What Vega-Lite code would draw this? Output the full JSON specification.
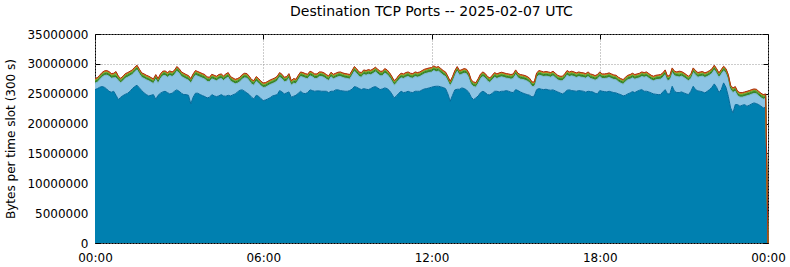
{
 "$schema": "https://vega.github.io/schema/vega-lite/v6.json",
 "width": 673,
 "height": 209,
 "autosize": "none",
 "padding": {"left": 95, "top": 34, "right": 22, "bottom": 24},
 "background": "white",
 "config": {
  "font": "DejaVu Sans",
  "view": {"stroke": "black", "strokeWidth": 1},
  "axis": {"labelFontSize": 12, "labelColor": "black", "titleFontSize": 12, "titleColor": "black", "titleFontWeight": "normal", "tickColor": "black", "domain": false, "labelFlush": false, "labelOverlap": false, "labelBound": false}
 },
 "title": {"text": "Destination TCP Ports -- 2025-02-07 UTC", "fontSize": 14, "fontWeight": "normal", "color": "black", "offset": 9, "anchor": "middle"},
 "data": {"values": [
{"t":0,"a":25690000,"b":1080000,"c":320000,"d":220000,"e":140000,"f":90000},
{"t":5,"a":25860000,"b":1070000,"c":320000,"d":220000,"e":140000,"f":90000},
{"t":10,"a":26080000,"b":1240000,"c":320000,"d":220000,"e":140000,"f":90000},
{"t":15,"a":26200000,"b":1570000,"c":320000,"d":220000,"e":140000,"f":90000},
{"t":20,"a":26080000,"b":1970000,"c":320000,"d":220000,"e":140000,"f":90000},
{"t":25,"a":25800000,"b":2310000,"c":320000,"d":220000,"e":140000,"f":90000},
{"t":30,"a":25410000,"b":2530000,"c":320000,"d":220000,"e":140000,"f":90000},
{"t":35,"a":25250000,"b":2350000,"c":320000,"d":220000,"e":140000,"f":90000},
{"t":40,"a":25410000,"b":2250000,"c":320000,"d":220000,"e":140000,"f":90000},
{"t":45,"a":24740000,"b":2930000,"c":320000,"d":500000,"e":140000,"f":90000},
{"t":50,"a":24020000,"b":3140000,"c":320000,"d":220000,"e":140000,"f":90000},
{"t":55,"a":24410000,"b":2410000,"c":320000,"d":220000,"e":140000,"f":90000},
{"t":60,"a":24690000,"b":2470000,"c":320000,"d":220000,"e":140000,"f":90000},
{"t":65,"a":24910000,"b":2690000,"c":320000,"d":220000,"e":140000,"f":90000},
{"t":70,"a":25080000,"b":2690000,"c":320000,"d":220000,"e":140000,"f":90000},
{"t":75,"a":25410000,"b":2590000,"c":320000,"d":220000,"e":140000,"f":90000},
{"t":80,"a":25860000,"b":2360000,"c":320000,"d":220000,"e":140000,"f":90000},
{"t":85,"a":26200000,"b":2470000,"c":320000,"d":220000,"e":140000,"f":90000},
{"t":90,"a":26420000,"b":2580000,"c":320000,"d":220000,"e":140000,"f":90000},
{"t":95,"a":25970000,"b":2360000,"c":320000,"d":220000,"e":140000,"f":90000},
{"t":100,"a":25530000,"b":2190000,"c":320000,"d":220000,"e":140000,"f":90000},
{"t":105,"a":25130000,"b":2420000,"c":320000,"d":220000,"e":140000,"f":90000},
{"t":110,"a":24850000,"b":2470000,"c":320000,"d":220000,"e":140000,"f":90000},
{"t":115,"a":24630000,"b":2530000,"c":320000,"d":220000,"e":140000,"f":90000},
{"t":120,"a":24740000,"b":2190000,"c":320000,"d":220000,"e":140000,"f":90000},
{"t":125,"a":24850000,"b":1860000,"c":320000,"d":220000,"e":140000,"f":90000},
{"t":130,"a":24070000,"b":3370000,"c":320000,"d":220000,"e":140000,"f":90000},
{"t":135,"a":24740000,"b":2030000,"c":320000,"d":220000,"e":140000,"f":90000},
{"t":140,"a":25080000,"b":2470000,"c":320000,"d":220000,"e":140000,"f":90000},
{"t":145,"a":25300000,"b":2700000,"c":320000,"d":220000,"e":140000,"f":90000},
{"t":150,"a":25410000,"b":2640000,"c":320000,"d":220000,"e":140000,"f":90000},
{"t":155,"a":25190000,"b":2580000,"c":320000,"d":220000,"e":140000,"f":90000},
{"t":160,"a":24970000,"b":3080000,"c":320000,"d":220000,"e":140000,"f":90000},
{"t":165,"a":25080000,"b":2800000,"c":320000,"d":220000,"e":140000,"f":90000},
{"t":170,"a":25410000,"b":2750000,"c":320000,"d":220000,"e":140000,"f":90000},
{"t":175,"a":25640000,"b":3140000,"c":320000,"d":220000,"e":140000,"f":90000},
{"t":180,"a":25410000,"b":3030000,"c":320000,"d":220000,"e":140000,"f":90000},
{"t":185,"a":25080000,"b":2800000,"c":320000,"d":220000,"e":140000,"f":90000},
{"t":190,"a":24850000,"b":2810000,"c":320000,"d":220000,"e":140000,"f":90000},
{"t":195,"a":24850000,"b":2590000,"c":320000,"d":220000,"e":140000,"f":90000},
{"t":200,"a":24740000,"b":2530000,"c":320000,"d":220000,"e":140000,"f":90000},
{"t":205,"a":23290000,"b":3480000,"c":320000,"d":220000,"e":140000,"f":90000},
{"t":210,"a":24410000,"b":3140000,"c":320000,"d":220000,"e":140000,"f":90000},
{"t":215,"a":25080000,"b":3030000,"c":320000,"d":220000,"e":140000,"f":90000},
{"t":220,"a":25080000,"b":2860000,"c":320000,"d":220000,"e":140000,"f":90000},
{"t":225,"a":24850000,"b":2920000,"c":320000,"d":220000,"e":140000,"f":90000},
{"t":230,"a":24690000,"b":2910000,"c":320000,"d":220000,"e":140000,"f":90000},
{"t":235,"a":24520000,"b":2920000,"c":320000,"d":220000,"e":140000,"f":90000},
{"t":240,"a":24300000,"b":2750000,"c":320000,"d":220000,"e":140000,"f":90000},
{"t":245,"a":24410000,"b":2580000,"c":320000,"d":220000,"e":140000,"f":90000},
{"t":250,"a":24850000,"b":2640000,"c":320000,"d":220000,"e":140000,"f":90000},
{"t":255,"a":24630000,"b":2690000,"c":320000,"d":220000,"e":140000,"f":90000},
{"t":260,"a":24520000,"b":2640000,"c":320000,"d":220000,"e":140000,"f":90000},
{"t":265,"a":24630000,"b":2810000,"c":320000,"d":220000,"e":140000,"f":90000},
{"t":270,"a":24850000,"b":2700000,"c":320000,"d":220000,"e":140000,"f":90000},
{"t":275,"a":24630000,"b":2580000,"c":320000,"d":220000,"e":140000,"f":90000},
{"t":280,"a":24580000,"b":2970000,"c":320000,"d":220000,"e":140000,"f":90000},
{"t":285,"a":24740000,"b":3030000,"c":320000,"d":220000,"e":140000,"f":90000},
{"t":290,"a":24630000,"b":2470000,"c":320000,"d":220000,"e":140000,"f":90000},
{"t":295,"a":24800000,"b":2080000,"c":320000,"d":220000,"e":140000,"f":90000},
{"t":300,"a":24970000,"b":1680000,"c":320000,"d":220000,"e":140000,"f":90000},
{"t":305,"a":25300000,"b":1470000,"c":320000,"d":220000,"e":140000,"f":90000},
{"t":310,"a":25580000,"b":1410000,"c":320000,"d":220000,"e":140000,"f":90000},
{"t":315,"a":25640000,"b":1800000,"c":320000,"d":220000,"e":140000,"f":90000},
{"t":320,"a":25410000,"b":2250000,"c":320000,"d":220000,"e":140000,"f":90000},
{"t":325,"a":25130000,"b":2470000,"c":320000,"d":220000,"e":140000,"f":90000},
{"t":330,"a":24850000,"b":2310000,"c":320000,"d":220000,"e":140000,"f":90000},
{"t":335,"a":24410000,"b":2190000,"c":320000,"d":220000,"e":140000,"f":90000},
{"t":340,"a":24130000,"b":2300000,"c":320000,"d":220000,"e":140000,"f":90000},
{"t":345,"a":24740000,"b":2360000,"c":320000,"d":220000,"e":140000,"f":90000},
{"t":350,"a":24580000,"b":2190000,"c":320000,"d":220000,"e":140000,"f":90000},
{"t":355,"a":24180000,"b":2140000,"c":320000,"d":220000,"e":140000,"f":90000},
{"t":360,"a":23850000,"b":2190000,"c":320000,"d":220000,"e":140000,"f":90000},
{"t":365,"a":23960000,"b":2140000,"c":320000,"d":220000,"e":140000,"f":90000},
{"t":370,"a":24130000,"b":2190000,"c":320000,"d":220000,"e":140000,"f":90000},
{"t":375,"a":24350000,"b":2190000,"c":320000,"d":220000,"e":140000,"f":90000},
{"t":380,"a":24630000,"b":2080000,"c":320000,"d":220000,"e":140000,"f":90000},
{"t":385,"a":24740000,"b":2140000,"c":320000,"d":220000,"e":140000,"f":90000},
{"t":390,"a":24850000,"b":2310000,"c":320000,"d":220000,"e":140000,"f":90000},
{"t":395,"a":25530000,"b":2240000,"c":320000,"d":220000,"e":140000,"f":90000},
{"t":400,"a":25300000,"b":2190000,"c":320000,"d":220000,"e":140000,"f":90000},
{"t":405,"a":24970000,"b":2020000,"c":320000,"d":220000,"e":140000,"f":90000},
{"t":410,"a":25130000,"b":1970000,"c":320000,"d":220000,"e":140000,"f":90000},
{"t":415,"a":25300000,"b":2300000,"c":320000,"d":220000,"e":140000,"f":90000},
{"t":420,"a":24410000,"b":2020000,"c":320000,"d":220000,"e":140000,"f":90000},
{"t":425,"a":24580000,"b":2190000,"c":320000,"d":220000,"e":140000,"f":90000},
{"t":430,"a":24740000,"b":1910000,"c":320000,"d":220000,"e":140000,"f":90000},
{"t":435,"a":25080000,"b":2240000,"c":320000,"d":220000,"e":140000,"f":90000},
{"t":440,"a":25410000,"b":2470000,"c":320000,"d":220000,"e":140000,"f":90000},
{"t":445,"a":25080000,"b":2690000,"c":320000,"d":220000,"e":140000,"f":90000},
{"t":450,"a":25020000,"b":2580000,"c":320000,"d":220000,"e":140000,"f":90000},
{"t":455,"a":25190000,"b":2300000,"c":320000,"d":220000,"e":140000,"f":90000},
{"t":460,"a":25640000,"b":2360000,"c":320000,"d":220000,"e":140000,"f":90000},
{"t":465,"a":25530000,"b":2300000,"c":320000,"d":220000,"e":140000,"f":90000},
{"t":470,"a":25410000,"b":2140000,"c":320000,"d":220000,"e":140000,"f":90000},
{"t":475,"a":25470000,"b":2080000,"c":320000,"d":220000,"e":140000,"f":90000},
{"t":480,"a":25470000,"b":2410000,"c":320000,"d":220000,"e":140000,"f":90000},
{"t":485,"a":25410000,"b":2470000,"c":320000,"d":220000,"e":140000,"f":90000},
{"t":490,"a":25410000,"b":2310000,"c":320000,"d":220000,"e":140000,"f":90000},
{"t":495,"a":25410000,"b":2030000,"c":320000,"d":220000,"e":140000,"f":90000},
{"t":500,"a":25190000,"b":2020000,"c":320000,"d":220000,"e":140000,"f":90000},
{"t":505,"a":25410000,"b":2420000,"c":320000,"d":220000,"e":140000,"f":90000},
{"t":510,"a":25410000,"b":2080000,"c":320000,"d":220000,"e":140000,"f":90000},
{"t":515,"a":25640000,"b":2020000,"c":320000,"d":220000,"e":140000,"f":90000},
{"t":520,"a":25640000,"b":2190000,"c":320000,"d":220000,"e":140000,"f":90000},
{"t":525,"a":25530000,"b":2350000,"c":320000,"d":220000,"e":140000,"f":90000},
{"t":530,"a":25470000,"b":2250000,"c":320000,"d":220000,"e":140000,"f":90000},
{"t":535,"a":25410000,"b":2190000,"c":320000,"d":220000,"e":140000,"f":90000},
{"t":540,"a":25410000,"b":2140000,"c":320000,"d":220000,"e":140000,"f":90000},
{"t":545,"a":25530000,"b":1910000,"c":320000,"d":220000,"e":140000,"f":90000},
{"t":550,"a":25750000,"b":2360000,"c":320000,"d":220000,"e":140000,"f":90000},
{"t":555,"a":26200000,"b":2580000,"c":320000,"d":220000,"e":140000,"f":90000},
{"t":560,"a":26080000,"b":2310000,"c":320000,"d":220000,"e":140000,"f":90000},
{"t":565,"a":25860000,"b":2020000,"c":320000,"d":220000,"e":140000,"f":90000},
{"t":570,"a":25690000,"b":2080000,"c":320000,"d":220000,"e":140000,"f":90000},
{"t":575,"a":25860000,"b":2360000,"c":320000,"d":220000,"e":140000,"f":90000},
{"t":580,"a":25750000,"b":2360000,"c":320000,"d":220000,"e":140000,"f":90000},
{"t":585,"a":25690000,"b":2580000,"c":320000,"d":220000,"e":140000,"f":90000},
{"t":590,"a":25860000,"b":2300000,"c":320000,"d":220000,"e":140000,"f":90000},
{"t":595,"a":26080000,"b":2310000,"c":320000,"d":220000,"e":140000,"f":90000},
{"t":600,"a":26200000,"b":2470000,"c":320000,"d":220000,"e":140000,"f":90000},
{"t":605,"a":25970000,"b":2360000,"c":320000,"d":220000,"e":140000,"f":90000},
{"t":610,"a":25690000,"b":2310000,"c":320000,"d":220000,"e":140000,"f":90000},
{"t":615,"a":25800000,"b":2200000,"c":320000,"d":220000,"e":140000,"f":90000},
{"t":620,"a":25970000,"b":2470000,"c":320000,"d":220000,"e":140000,"f":90000},
{"t":625,"a":25860000,"b":2360000,"c":320000,"d":220000,"e":140000,"f":90000},
{"t":630,"a":25530000,"b":2240000,"c":320000,"d":220000,"e":140000,"f":90000},
{"t":635,"a":24970000,"b":2190000,"c":320000,"d":220000,"e":140000,"f":90000},
{"t":640,"a":24300000,"b":2130000,"c":320000,"d":220000,"e":140000,"f":90000},
{"t":645,"a":24630000,"b":2140000,"c":320000,"d":220000,"e":140000,"f":90000},
{"t":650,"a":25080000,"b":2240000,"c":320000,"d":220000,"e":140000,"f":90000},
{"t":655,"a":25410000,"b":2250000,"c":320000,"d":220000,"e":140000,"f":90000},
{"t":660,"a":25190000,"b":2360000,"c":320000,"d":220000,"e":140000,"f":90000},
{"t":665,"a":25250000,"b":2520000,"c":320000,"d":220000,"e":140000,"f":90000},
{"t":670,"a":25410000,"b":2470000,"c":320000,"d":220000,"e":140000,"f":90000},
{"t":675,"a":25250000,"b":2410000,"c":320000,"d":220000,"e":140000,"f":90000},
{"t":680,"a":25190000,"b":2410000,"c":320000,"d":220000,"e":140000,"f":90000},
{"t":685,"a":25410000,"b":2470000,"c":320000,"d":220000,"e":140000,"f":90000},
{"t":690,"a":25410000,"b":2360000,"c":320000,"d":220000,"e":140000,"f":90000},
{"t":695,"a":25410000,"b":2470000,"c":320000,"d":220000,"e":140000,"f":90000},
{"t":700,"a":25640000,"b":2470000,"c":320000,"d":220000,"e":140000,"f":90000},
{"t":705,"a":25800000,"b":2530000,"c":320000,"d":220000,"e":140000,"f":90000},
{"t":710,"a":25860000,"b":2580000,"c":320000,"d":220000,"e":140000,"f":90000},
{"t":715,"a":25970000,"b":2580000,"c":320000,"d":220000,"e":140000,"f":90000},
{"t":720,"a":26080000,"b":2530000,"c":320000,"d":220000,"e":140000,"f":90000},
{"t":725,"a":26200000,"b":2690000,"c":320000,"d":220000,"e":140000,"f":90000},
{"t":730,"a":26250000,"b":2420000,"c":320000,"d":220000,"e":140000,"f":90000},
{"t":735,"a":26250000,"b":2530000,"c":320000,"d":220000,"e":140000,"f":90000},
{"t":740,"a":26140000,"b":2300000,"c":320000,"d":220000,"e":140000,"f":90000},
{"t":745,"a":26030000,"b":2080000,"c":320000,"d":220000,"e":140000,"f":90000},
{"t":750,"a":25860000,"b":2020000,"c":320000,"d":220000,"e":140000,"f":90000},
{"t":755,"a":24970000,"b":2190000,"c":320000,"d":220000,"e":140000,"f":90000},
{"t":760,"a":23740000,"b":2580000,"c":320000,"d":220000,"e":140000,"f":90000},
{"t":765,"a":24740000,"b":2360000,"c":320000,"d":220000,"e":140000,"f":90000},
{"t":770,"a":25640000,"b":2470000,"c":320000,"d":220000,"e":140000,"f":90000},
{"t":775,"a":25750000,"b":3030000,"c":320000,"d":220000,"e":140000,"f":90000},
{"t":780,"a":25750000,"b":2360000,"c":320000,"d":220000,"e":140000,"f":90000},
{"t":785,"a":25970000,"b":2300000,"c":320000,"d":220000,"e":140000,"f":90000},
{"t":790,"a":25860000,"b":2580000,"c":320000,"d":220000,"e":140000,"f":90000},
{"t":795,"a":25640000,"b":2690000,"c":320000,"d":220000,"e":140000,"f":90000},
{"t":800,"a":25190000,"b":2530000,"c":320000,"d":220000,"e":140000,"f":90000},
{"t":805,"a":24410000,"b":2130000,"c":320000,"d":220000,"e":140000,"f":90000},
{"t":810,"a":24020000,"b":2190000,"c":320000,"d":220000,"e":140000,"f":90000},
{"t":815,"a":24300000,"b":1800000,"c":320000,"d":220000,"e":140000,"f":90000},
{"t":820,"a":24630000,"b":2140000,"c":320000,"d":220000,"e":140000,"f":90000},
{"t":825,"a":25190000,"b":2360000,"c":320000,"d":220000,"e":140000,"f":90000},
{"t":830,"a":25410000,"b":2470000,"c":320000,"d":220000,"e":140000,"f":90000},
{"t":835,"a":25190000,"b":2410000,"c":320000,"d":220000,"e":140000,"f":90000},
{"t":840,"a":24850000,"b":2250000,"c":320000,"d":220000,"e":140000,"f":90000},
{"t":845,"a":24800000,"b":2080000,"c":320000,"d":220000,"e":140000,"f":90000},
{"t":850,"a":25080000,"b":2240000,"c":320000,"d":220000,"e":140000,"f":90000},
{"t":855,"a":25410000,"b":2360000,"c":320000,"d":220000,"e":140000,"f":90000},
{"t":860,"a":25410000,"b":2140000,"c":320000,"d":220000,"e":140000,"f":90000},
{"t":865,"a":25300000,"b":2420000,"c":320000,"d":220000,"e":140000,"f":90000},
{"t":870,"a":25410000,"b":2420000,"c":320000,"d":220000,"e":140000,"f":90000},
{"t":875,"a":25410000,"b":2310000,"c":320000,"d":220000,"e":140000,"f":90000},
{"t":880,"a":25530000,"b":2070000,"c":320000,"d":220000,"e":140000,"f":90000},
{"t":885,"a":25410000,"b":2140000,"c":320000,"d":220000,"e":140000,"f":90000},
{"t":890,"a":25250000,"b":2190000,"c":320000,"d":220000,"e":140000,"f":90000},
{"t":895,"a":25190000,"b":2360000,"c":320000,"d":220000,"e":140000,"f":90000},
{"t":900,"a":25690000,"b":2530000,"c":320000,"d":220000,"e":140000,"f":90000},
{"t":905,"a":25530000,"b":2130000,"c":320000,"d":220000,"e":140000,"f":90000},
{"t":910,"a":25300000,"b":2140000,"c":320000,"d":220000,"e":140000,"f":90000},
{"t":915,"a":25130000,"b":2250000,"c":320000,"d":220000,"e":140000,"f":90000},
{"t":920,"a":24970000,"b":2300000,"c":320000,"d":220000,"e":140000,"f":90000},
{"t":925,"a":24850000,"b":2250000,"c":320000,"d":220000,"e":140000,"f":90000},
{"t":930,"a":24740000,"b":2080000,"c":320000,"d":220000,"e":140000,"f":90000},
{"t":935,"a":24460000,"b":1750000,"c":320000,"d":220000,"e":140000,"f":90000},
{"t":940,"a":24630000,"b":1580000,"c":320000,"d":220000,"e":140000,"f":90000},
{"t":945,"a":25690000,"b":2030000,"c":320000,"d":220000,"e":140000,"f":90000},
{"t":950,"a":25860000,"b":2250000,"c":320000,"d":220000,"e":140000,"f":90000},
{"t":955,"a":25750000,"b":2250000,"c":320000,"d":220000,"e":140000,"f":90000},
{"t":960,"a":25690000,"b":2190000,"c":320000,"d":220000,"e":140000,"f":90000},
{"t":965,"a":25750000,"b":2190000,"c":320000,"d":220000,"e":140000,"f":90000},
{"t":970,"a":25640000,"b":2240000,"c":320000,"d":220000,"e":140000,"f":90000},
{"t":975,"a":25580000,"b":2190000,"c":320000,"d":220000,"e":140000,"f":90000},
{"t":980,"a":25640000,"b":2360000,"c":320000,"d":220000,"e":140000,"f":90000},
{"t":985,"a":25470000,"b":2190000,"c":320000,"d":220000,"e":140000,"f":90000},
{"t":990,"a":25300000,"b":2020000,"c":320000,"d":220000,"e":140000,"f":90000},
{"t":995,"a":25130000,"b":2030000,"c":320000,"d":220000,"e":140000,"f":90000},
{"t":1000,"a":24970000,"b":2190000,"c":320000,"d":220000,"e":140000,"f":90000},
{"t":1005,"a":25190000,"b":2360000,"c":320000,"d":220000,"e":140000,"f":90000},
{"t":1010,"a":25580000,"b":2530000,"c":320000,"d":220000,"e":140000,"f":90000},
{"t":1015,"a":25640000,"b":2240000,"c":320000,"d":220000,"e":140000,"f":90000},
{"t":1020,"a":25530000,"b":2470000,"c":320000,"d":220000,"e":140000,"f":90000},
{"t":1025,"a":25470000,"b":2410000,"c":320000,"d":220000,"e":140000,"f":90000},
{"t":1030,"a":25410000,"b":2310000,"c":320000,"d":220000,"e":140000,"f":90000},
{"t":1035,"a":25530000,"b":2350000,"c":320000,"d":220000,"e":140000,"f":90000},
{"t":1040,"a":25470000,"b":2300000,"c":320000,"d":220000,"e":140000,"f":90000},
{"t":1045,"a":25410000,"b":2310000,"c":320000,"d":220000,"e":140000,"f":90000},
{"t":1050,"a":25250000,"b":2350000,"c":320000,"d":220000,"e":140000,"f":90000},
{"t":1055,"a":25410000,"b":2470000,"c":320000,"d":220000,"e":140000,"f":90000},
{"t":1060,"a":25360000,"b":2190000,"c":320000,"d":220000,"e":140000,"f":90000},
{"t":1065,"a":25300000,"b":2140000,"c":320000,"d":220000,"e":140000,"f":90000},
{"t":1070,"a":25080000,"b":2190000,"c":320000,"d":220000,"e":140000,"f":90000},
{"t":1075,"a":24970000,"b":2470000,"c":320000,"d":220000,"e":140000,"f":90000},
{"t":1080,"a":25530000,"b":2350000,"c":320000,"d":220000,"e":140000,"f":90000},
{"t":1085,"a":25410000,"b":2140000,"c":320000,"d":220000,"e":140000,"f":90000},
{"t":1090,"a":25360000,"b":2190000,"c":320000,"d":220000,"e":140000,"f":90000},
{"t":1095,"a":25300000,"b":2300000,"c":320000,"d":220000,"e":140000,"f":90000},
{"t":1100,"a":25410000,"b":2310000,"c":320000,"d":220000,"e":140000,"f":90000},
{"t":1105,"a":25300000,"b":2250000,"c":320000,"d":220000,"e":140000,"f":90000},
{"t":1110,"a":25190000,"b":2190000,"c":320000,"d":220000,"e":140000,"f":90000},
{"t":1115,"a":25130000,"b":2190000,"c":320000,"d":220000,"e":140000,"f":90000},
{"t":1120,"a":24970000,"b":2020000,"c":320000,"d":220000,"e":140000,"f":90000},
{"t":1125,"a":24850000,"b":1920000,"c":320000,"d":220000,"e":140000,"f":90000},
{"t":1130,"a":24630000,"b":1970000,"c":320000,"d":220000,"e":140000,"f":90000},
{"t":1135,"a":24740000,"b":2250000,"c":320000,"d":220000,"e":140000,"f":90000},
{"t":1140,"a":24970000,"b":2350000,"c":320000,"d":220000,"e":140000,"f":90000},
{"t":1145,"a":25130000,"b":2310000,"c":320000,"d":220000,"e":140000,"f":90000},
{"t":1150,"a":25360000,"b":2300000,"c":320000,"d":220000,"e":140000,"f":90000},
{"t":1155,"a":25190000,"b":2250000,"c":320000,"d":220000,"e":140000,"f":90000},
{"t":1160,"a":25410000,"b":2140000,"c":320000,"d":220000,"e":140000,"f":90000},
{"t":1165,"a":25580000,"b":2080000,"c":320000,"d":220000,"e":140000,"f":90000},
{"t":1170,"a":25690000,"b":2190000,"c":320000,"d":220000,"e":140000,"f":90000},
{"t":1175,"a":25410000,"b":2360000,"c":320000,"d":220000,"e":140000,"f":90000},
{"t":1180,"a":25410000,"b":2470000,"c":320000,"d":220000,"e":140000,"f":90000},
{"t":1185,"a":25300000,"b":2300000,"c":320000,"d":220000,"e":140000,"f":90000},
{"t":1190,"a":25130000,"b":2190000,"c":320000,"d":220000,"e":140000,"f":90000},
{"t":1195,"a":24970000,"b":2190000,"c":320000,"d":220000,"e":140000,"f":90000},
{"t":1200,"a":24910000,"b":2410000,"c":320000,"d":220000,"e":140000,"f":90000},
{"t":1205,"a":24850000,"b":2530000,"c":320000,"d":220000,"e":140000,"f":90000},
{"t":1210,"a":24850000,"b":2590000,"c":320000,"d":220000,"e":140000,"f":90000},
{"t":1215,"a":25300000,"b":2420000,"c":320000,"d":220000,"e":140000,"f":90000},
{"t":1220,"a":25690000,"b":2530000,"c":320000,"d":220000,"e":140000,"f":90000},
{"t":1225,"a":24970000,"b":2190000,"c":320000,"d":220000,"e":140000,"f":90000},
{"t":1230,"a":24970000,"b":2350000,"c":320000,"d":220000,"e":140000,"f":90000},
{"t":1235,"a":26250000,"b":2300000,"c":320000,"d":220000,"e":140000,"f":90000},
{"t":1240,"a":25410000,"b":2590000,"c":320000,"d":220000,"e":140000,"f":90000},
{"t":1245,"a":25190000,"b":2690000,"c":320000,"d":220000,"e":140000,"f":90000},
{"t":1250,"a":25190000,"b":2610000,"c":320000,"d":420000,"e":140000,"f":90000},
{"t":1255,"a":25300000,"b":2640000,"c":320000,"d":220000,"e":140000,"f":90000},
{"t":1260,"a":25130000,"b":2590000,"c":320000,"d":220000,"e":140000,"f":90000},
{"t":1265,"a":24970000,"b":2470000,"c":320000,"d":220000,"e":140000,"f":90000},
{"t":1270,"a":24850000,"b":2310000,"c":320000,"d":220000,"e":140000,"f":90000},
{"t":1275,"a":25410000,"b":2140000,"c":320000,"d":220000,"e":140000,"f":90000},
{"t":1280,"a":26250000,"b":2300000,"c":320000,"d":220000,"e":140000,"f":90000},
{"t":1285,"a":25690000,"b":2420000,"c":320000,"d":220000,"e":140000,"f":90000},
{"t":1290,"a":25470000,"b":2300000,"c":320000,"d":220000,"e":140000,"f":90000},
{"t":1295,"a":25410000,"b":2470000,"c":320000,"d":220000,"e":140000,"f":90000},
{"t":1300,"a":25300000,"b":2640000,"c":320000,"d":220000,"e":140000,"f":90000},
{"t":1305,"a":25130000,"b":2590000,"c":320000,"d":220000,"e":140000,"f":90000},
{"t":1310,"a":25410000,"b":2470000,"c":320000,"d":220000,"e":140000,"f":90000},
{"t":1315,"a":25690000,"b":2420000,"c":320000,"d":220000,"e":140000,"f":90000},
{"t":1320,"a":26080000,"b":2310000,"c":320000,"d":220000,"e":140000,"f":90000},
{"t":1325,"a":26640000,"b":2360000,"c":320000,"d":220000,"e":140000,"f":90000},
{"t":1330,"a":26080000,"b":2360000,"c":320000,"d":220000,"e":140000,"f":90000},
{"t":1335,"a":25190000,"b":2530000,"c":320000,"d":220000,"e":140000,"f":90000},
{"t":1340,"a":25690000,"b":2580000,"c":320000,"d":220000,"e":140000,"f":90000},
{"t":1345,"a":26810000,"b":2020000,"c":320000,"d":220000,"e":140000,"f":90000},
{"t":1350,"a":26080000,"b":2360000,"c":320000,"d":220000,"e":140000,"f":90000},
{"t":1355,"a":24580000,"b":2860000,"c":320000,"d":220000,"e":140000,"f":90000},
{"t":1360,"a":22620000,"b":3030000,"c":320000,"d":220000,"e":140000,"f":90000},
{"t":1365,"a":21780000,"b":3420000,"c":320000,"d":220000,"e":140000,"f":90000},
{"t":1370,"a":23180000,"b":2250000,"c":320000,"d":220000,"e":140000,"f":90000},
{"t":1375,"a":23180000,"b":1460000,"c":320000,"d":220000,"e":140000,"f":90000},
{"t":1380,"a":22900000,"b":1520000,"c":320000,"d":220000,"e":140000,"f":90000},
{"t":1385,"a":23070000,"b":1350000,"c":320000,"d":220000,"e":140000,"f":90000},
{"t":1390,"a":23180000,"b":1350000,"c":320000,"d":220000,"e":140000,"f":90000},
{"t":1395,"a":22900000,"b":1740000,"c":320000,"d":220000,"e":140000,"f":90000},
{"t":1400,"a":23070000,"b":1690000,"c":320000,"d":220000,"e":140000,"f":90000},
{"t":1405,"a":23290000,"b":1630000,"c":320000,"d":220000,"e":140000,"f":90000},
{"t":1410,"a":23460000,"b":1570000,"c":320000,"d":220000,"e":140000,"f":90000},
{"t":1415,"a":23350000,"b":1630000,"c":320000,"d":220000,"e":140000,"f":90000},
{"t":1420,"a":23180000,"b":1460000,"c":320000,"d":220000,"e":140000,"f":90000},
{"t":1425,"a":22900000,"b":1410000,"c":320000,"d":220000,"e":140000,"f":90000},
{"t":1430,"a":22620000,"b":1460000,"c":320000,"d":220000,"e":140000,"f":90000},
{"t":1435,"a":22730000,"b":1470000,"c":320000,"d":220000,"e":140000,"f":90000},
{"t":1440,"a":0,"b":0,"c":0,"d":0,"e":0,"f":0}
 ]},
 "transform": [{"fold": ["a", "b", "c", "d", "e", "f"], "as": ["k", "v"]}],
 "layer": [
  {
   "mark": {"type": "area", "interpolate": "linear"},
   "encoding": {
    "x": {"field": "t", "type": "quantitative", "scale": {"domain": [0, 1440], "nice": false, "zero": false},
      "axis": {"orient": "bottom", "title": null, "values": [0, 360, 720, 1080, 1440], "labelExpr": "['00:00','06:00','12:00','18:00','00:00'][round(datum.value/360)]", "grid": true, "gridDash": [1, 2], "gridColor": "#999999", "tickSize": -5, "labelPadding": 14}},
    "y": {"field": "v", "type": "quantitative", "stack": "zero", "scale": {"domain": [0, 35000000], "nice": false},
      "axis": {"orient": "left", "title": "Bytes per time slot (300 s)", "values": [0, 5000000, 10000000, 15000000, 20000000, 25000000, 30000000, 35000000], "format": "d", "grid": true, "gridDash": [1, 2], "gridColor": "#999999", "tickSize": -5, "labelPadding": 12, "titlePadding": 9}},
    "color": {"field": "k", "type": "nominal", "scale": {"domain": ["a", "b", "c", "d", "e", "f"], "range": ["#0080b0", "#8cc4e4", "#3c8c28", "#7cbc44", "#e88a20", "#c04018"]}, "legend": null},
    "order": {"field": "k"}
   }
  },
  {
   "mark": {"type": "line", "strokeWidth": 1, "interpolate": "linear"},
   "encoding": {
    "x": {"field": "t", "type": "quantitative", "scale": {"domain": [0, 1440], "nice": false, "zero": false},
      "axis": {"orient": "top", "title": null, "values": [0, 360, 720, 1080, 1440], "labels": false, "grid": false, "tickSize": -5}},
    "y": {"field": "v", "type": "quantitative", "stack": "zero", "scale": {"domain": [0, 35000000], "nice": false},
      "axis": {"orient": "right", "title": null, "values": [0, 5000000, 10000000, 15000000, 20000000, 25000000, 30000000, 35000000], "labels": false, "grid": false, "tickSize": -5}},
    "color": {"field": "k", "type": "nominal", "scale": {"domain": ["a", "b", "c", "d", "e", "f"], "range": ["#00689a", "#80b8da", "#2f7a20", "#5ca832", "#e07818", "#a83010"]}, "legend": null},
    "order": {"field": "k"}
   }
  }
 ],
 "resolve": {"scale": {"color": "independent"}, "axis": {"x": "independent", "y": "independent"}}
}
